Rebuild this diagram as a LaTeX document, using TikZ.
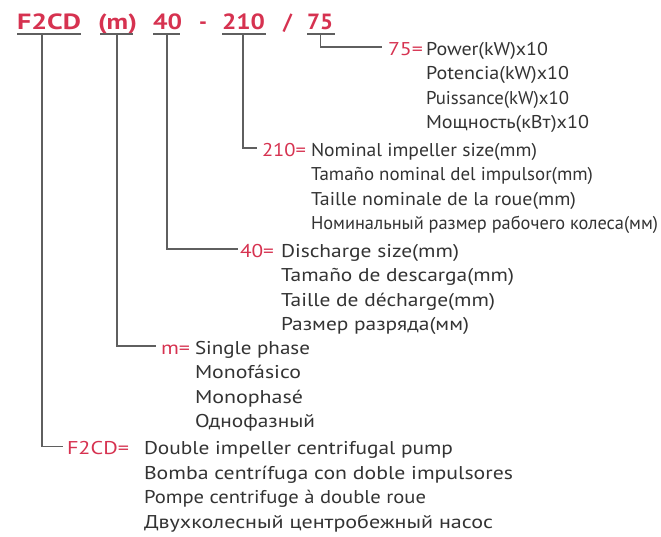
\documentclass[tikz,border=0pt]{standalone}
\usepackage{fontspec}
\setmainfont{PT Sans}
\usepackage{graphicx}
\definecolor{cred}{RGB}{214,50,80}
\definecolor{ctxt}{RGB}{51,51,51}
\definecolor{cline}{RGB}{95,95,95}
\newcommand\fitw[2]{\resizebox{#1pt}{\height}{#2}}
\begin{document}
\begin{tikzpicture}[x=1pt,y=-1pt,
  every node/.style={inner sep=0pt,outer sep=0pt,anchor=base west},
  code/.style={text=cred,font=\fontsize{22}{22}\selectfont\bfseries},
  lab/.style={text=cred,font=\fontsize{18.5}{20}\selectfont},
  desc/.style={text=ctxt,font=\fontsize{18.5}{20}\selectfont},
  conn/.style={draw=cline,line width=1.2pt}]
\useasboundingbox (0,0) rectangle (661,536);
% title
\node[code] (tF) at (17,29) {\fitw{64}{F2CD}};
\node[code] (tm) at (98,29) {\fitw{39}{(m)}};
\node[code] (t40) at (153,29) {\fitw{29}{40}};
\node[code] (tdash) at (199,29) {-};
\node[code] (t210) at (222,29) {\fitw{43}{210}};
\node[code] (tsl) at (283,29) {/};
\node[code] (t75) at (307,29) {\fitw{26}{75}};
% underlines
\draw[conn] ([yshift=-5pt]tF.base west) -- ([yshift=-5pt]tF.base east);
\draw[conn] ([xshift=2pt,yshift=-5pt]tm.base west) -- ([xshift=-4pt,yshift=-5pt]tm.base east);
\draw[conn] ([yshift=-5pt]t40.base west) -- ([xshift=-2pt,yshift=-5pt]t40.base east);
\draw[conn] ([yshift=-5pt]t210.base west) -- ([xshift=1pt,yshift=-5pt]t210.base east);
\draw[conn] ([yshift=-5pt]t75.base west) -- ([xshift=2pt,yshift=-5pt]t75.base east);
% stems
\coordinate (sF) at (42,34);
\coordinate (sm) at (117,34);
\coordinate (s40) at (167,34);
\coordinate (s210) at (243,34);
\coordinate (s75) at (320.7,34);
% labels
\node[lab] (l75) at (388,55) {\fitw{35}{75=}};
\node[lab] (l210) at (262,156) {\fitw{44}{210=}};
\node[lab] (l40) at (240,257) {\fitw{34}{40=}};
\node[lab] (lm) at (161,354) {\fitw{29}{m=}};
\node[lab] (lF) at (67,454.5) {\fitw{62}{F2CD=}};
% connectors
\draw[conn] (s75) |- ([xshift=-6pt,yshift=8pt]l75.base west);
\draw[conn] (s210) |- ([xshift=-5pt,yshift=8pt]l210.base west);
\draw[conn] (s40) |- ([xshift=-2pt,yshift=8pt]l40.base west);
\draw[conn] (sm) |- ([xshift=-5pt,yshift=8pt]lm.base west);
\draw[conn] (sF) |- ([xshift=-4pt,yshift=8pt]lF.base west);
% 75 block
\node[desc] (a1) at (426,55) {\fitw{122}{Power(kW)x10}};
\node[desc] (a2) at (426,79.6) {\fitw{143}{Potencia(kW)x10}};
\node[desc] (a3) at (426,104.2) {\fitw{143}{Puissance(kW)x10}};
\node[desc] (a4) at (426,128.8) {\fitw{163}{Мощность(кВт)x10}};
% 210 block
\node[desc] (b1) at (311,156) {\fitw{226}{Nominal impeller size(mm)}};
\node[desc] (b2) at (311,180.6) {\fitw{282}{Tamaño nominal del impulsor(mm)}};
\node[desc] (b3) at (311,205.2) {\fitw{265}{Taille nominale de la roue(mm)}};
\node[desc] (b4) at (311,229.8) {\fitw{347}{Номинальный размер рабочего колеса(мм)}};
% 40 block
\node[desc] (c1) at (281,257) {\fitw{178}{Discharge size(mm)}};
\node[desc] (c2) at (281,281.6) {\fitw{233}{Tamaño de descarga(mm)}};
\node[desc] (c3) at (281,306.2) {\fitw{214}{Taille de décharge(mm)}};
\node[desc] (c4) at (281,330.8) {\fitw{188}{Размер разряда(мм)}};
% m block
\node[desc] (d1) at (195,354) {\fitw{115}{Single phase}};
\node[desc] (d2) at (195,378.6) {\fitw{106}{Monofásico}};
\node[desc] (d3) at (195,403.2) {\fitw{108}{Monophasé}};
\node[desc] (d4) at (195,427.8) {\fitw{120}{Однофазный}};
% F2CD block
\node[desc] (e1) at (144,454.5) {\fitw{309}{Double impeller centrifugal pump}};
\node[desc] (e2) at (144,479) {\fitw{369}{Bomba centrífuga con doble impulsores}};
\node[desc] (e3) at (144,503.5) {\fitw{282}{Pompe centrifuge à double roue}};
\node[desc] (e4) at (144,528) {\fitw{349}{Двухколесный центробежный насос}};
\end{tikzpicture}
\end{document}
